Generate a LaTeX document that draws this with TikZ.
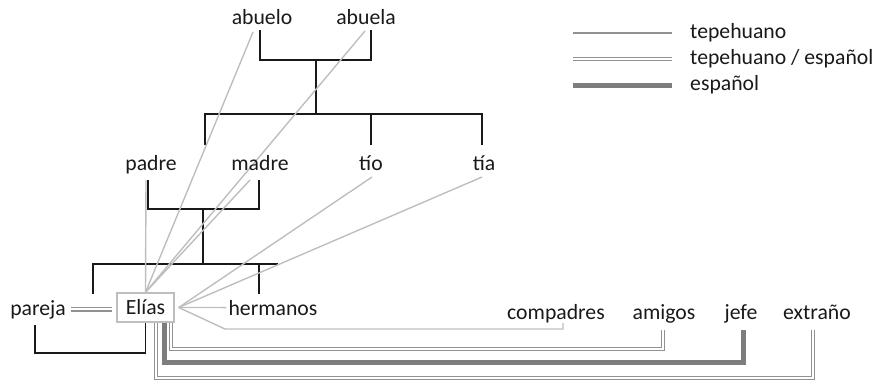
\documentclass[tikz,border=0pt]{standalone}
\usepackage{fontspec}
\setmainfont{Carlito}
\usetikzlibrary{backgrounds}
\pgfdeclarelayer{edgelayer}
\pgfdeclarelayer{nodelayer}
\pgfsetlayers{edgelayer,nodelayer,main}
\definecolor{ink}{RGB}{25,25,25}
\definecolor{lgray}{RGB}{190,190,190}
\definecolor{mgray}{RGB}{145,145,145}
\definecolor{dgray}{RGB}{125,125,125}
\tikzstyle{person}=[text=ink, inner sep=2pt, anchor=base, font=\fontsize{21.7}{24}\selectfont]
\tikzstyle{ego}=[rectangle, draw=lgray, line width=1.4, text=ink, minimum width=57, minimum height=29, inner sep=0, font=\fontsize{21.7}{24}\selectfont]
\tikzstyle{kin}=[-, draw=ink, line width=1.8]
\tikzstyle{tepehuano}=[-, draw=lgray, line width=1.4]
\tikzstyle{mixed}=[-, draw=mgray, line width=1.25, double=white, double distance=1.9]
\tikzstyle{espanol}=[-, draw=dgray, line width=5]

\begin{document}
\begin{tikzpicture}[x=1pt, y=-1pt]
            \useasboundingbox (0,0) rectangle (880,381);
            \begin{pgfonlayer}{nodelayer}
                \node [style=person] (abuelo) at (262,24) {abuelo};
                \node [style=person] (abuela) at (366,24) {abuela};
                \node [style=person] (padre) at (151,170) {padre};
                \node [style=person] (madre) at (260,170) {madre};
                \node [style=person] (tio) at (371,170) {tío};
                \node [style=person] (tia) at (484,170) {tía};
                \node [style=person] (pareja) at (38,315) {pareja};
                \node [style=ego] (elias) at (145.5,307.5) {Elías};
                \node [style=person] (hermanos) at (273,315) {hermanos};
                \node [style=person] (compadres) at (556,319) {compadres};
                \node [style=person] (amigos) at (664,319) {amigos};
                \node [style=person] (jefe) at (741,319) {jefe};
                \node [style=person] (extrano) at (817,319) {extraño};

                \node [style=person, anchor=base west] (legTep) at (688,38) {tepehuano};
                \node [style=person, anchor=base west] (legMix) at (688,64) {tepehuano / español};
                \node [style=person, anchor=base west] (legEsp) at (688,90) {español};
            \end{pgfonlayer}
            \begin{pgfonlayer}{edgelayer}
                % abuelos
                \coordinate (abueloS) at (260,30);
                \coordinate (abuelaS) at (371,30);
                \coordinate (abuelos) at (316,60);
                \coordinate (hijos) at (316,114);
                \coordinate (padreD) at (205,145);
                \coordinate (tioD) at (371,145);
                \coordinate (tiaD) at (482,145);
                \draw [style=kin] (abueloS) |- (abuelos) -| (abuelaS);
                \draw [style=kin] (abuelos) -- (hijos);
                \draw [style=kin] (padreD) |- (hijos) -| (tiaD);
                \draw [style=kin] (tioD) -- (tioD |- hijos);

                % padres
                \coordinate (padreS) at (148,180);
                \coordinate (madreS) at (259,180);
                \coordinate (padres) at (203,209);
                \coordinate (nietos) at (203,264);
                \coordinate (eliasD) at (93,294);
                \coordinate (hermD) at (259,294);
                \coordinate (nietosE) at (278,264);
                \draw [style=kin] (padreS) |- (padres) -| (madreS);
                \draw [style=kin] (padres) -- (nietos);
                \draw [style=kin] (eliasD) |- (nietos) -- (nietosE);
                \draw [style=kin] (hermD) -- (hermD |- nietos);

                % pareja
                \coordinate (parejaS) at (35,325);
                \draw [style=kin] (parejaS) |- ([yshift=-30pt]elias.south) -- (elias.south);

                % tepehuano
                \coordinate (eliasR) at ([xshift=4pt]elias.east);
                \coordinate (abueloT) at (253,32);
                \coordinate (abuelaT) at (365,31);
                \coordinate (padreT) at (146,180);
                \coordinate (madreT) at (250,180);
                \coordinate (tioT) at (372,177);
                \coordinate (tiaT) at (482,177);
                \coordinate (compK) at (225,329);
                \coordinate (compadresS) at (563,323);
                \draw [style=tepehuano] (elias.north) -- (abueloT);
                \draw [style=tepehuano] (elias.north) -- (abuelaT);
                \draw [style=tepehuano] (elias.north) -- (padreT);
                \draw [style=tepehuano] (elias.north) -- (madreT);
                \draw [style=tepehuano] (eliasR) -- (tioT);
                \draw [style=tepehuano] (eliasR) -- (tiaT);
                \draw [style=tepehuano] (eliasR) -- (hermanos.west);
                \draw [style=tepehuano] (eliasR) -- (compK) -| (compadresS);

                % tepehuano / espanol, espanol
                \coordinate (amigosS) at (663,330);
                \coordinate (jefeS) at (743,330);
                \coordinate (extranoS) at (813,330);
                \draw [style=mixed, shorten <=3pt, shorten >=4pt] (pareja.east) -- (pareja.east -| elias.west);
                \draw [style=mixed] ([xshift=25.5pt]elias.south) -- ++(0,26) -| (amigosS);
                \draw [style=espanol] ([xshift=19pt]elias.south) -- ++(0,40) -| (jefeS);
                \draw [style=mixed] ([xshift=10.5pt]elias.south) -- ++(0,55) -| (extranoS);

                % leyenda
                \coordinate (legA) at (573,33);
                \coordinate (legB) at (573,59);
                \coordinate (legC) at (573,85);
                \draw [style=tepehuano, draw=mgray] (legA) -- ++(99,0);
                \draw [style=mixed] (legB) -- ++(99,0);
                \draw [style=espanol] (legC) -- ++(99,0);
            \end{pgfonlayer}
        \end{tikzpicture}
\end{document}
